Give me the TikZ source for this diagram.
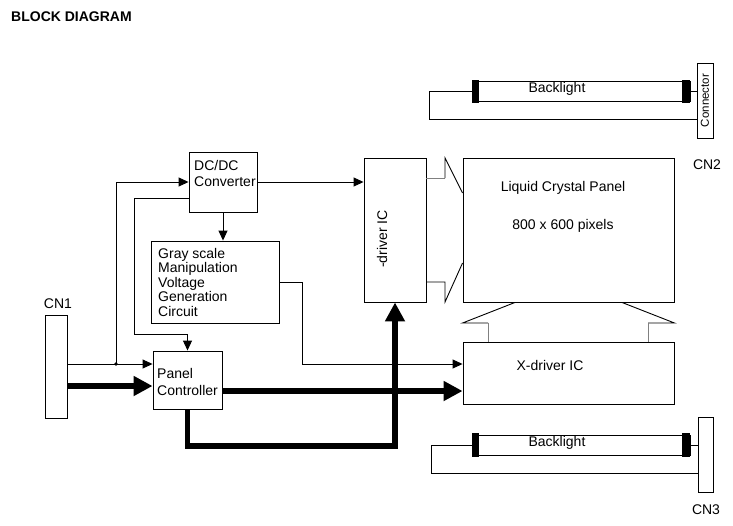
\documentclass[tikz,border=0pt]{standalone}
\usepackage{fontspec}
\setmainfont{Liberation Sans}
\usepackage{xcolor}
\usepackage{graphicx}
\usepackage{tikz}
\usetikzlibrary{shapes, arrows.meta, positioning}

\begin{document}
\begin{tikzpicture}[x=1pt, y=-1pt,
    box/.style={draw, rectangle, line width=0.9pt, inner sep=0pt},
    lbl/.style={inner sep=0pt, font=\fontsize{14}{16}\selectfont},
    wire/.style={line width=0.9pt},
    sig/.style={wire, -{Triangle[length=10pt, width=9pt]}},
    bus/.style={line width=5.5pt, -{Triangle[length=19pt, width=19pt]}},
    lamp/.style={box, minimum width=218pt, minimum height=20pt}]
  \useasboundingbox (0,0) rectangle (733,525);

  \node[lbl, anchor=west, font=\fontsize{14}{16}\selectfont\bfseries] (title) at (11,17) {BLOCK DIAGRAM};

  \node[box, minimum width=22pt, minimum height=103pt] (cn1) at (56,366.5) {};
  \node[lbl] (cn1-t) at (58,304) {CN1};

  \node[box, minimum width=68pt, minimum height=60pt] (dcdc) at (223,182) {};
  \node[lbl, align=left, anchor=north west] (dcdc-t) at (194,160) {DC/DC\\Converter};

  \node[box, minimum width=128pt, minimum height=82pt] (gray) at (215,282) {};
  \node[lbl, align=left, anchor=north west, font=\fontsize{14}{14.5}\selectfont] (gray-t) at (158,248) {Gray scale\\Manipulation\\Voltage\\Generation\\Circuit};

  \node[box, minimum width=69pt, minimum height=58pt] (panel) at (187.5,380) {};
  \node[lbl, align=left, anchor=north west, font=\fontsize{14}{17}\selectfont] (panel-t) at (157,368) {Panel\\Controller};

  \node[box, minimum width=62pt, minimum height=144pt] (ydrv) at (395,230) {};
  \node[lbl, rotate=90] (ydrv-t) at (382,239) {-driver IC};

  \node[box, minimum width=211pt, minimum height=144pt] (lcd) at (568.5,230) {};
  \node[lbl, align=center, anchor=north] (lcd-t) at (563,181) {Liquid Crystal Panel\\[22pt]800 x 600 pixels};
  \node[lbl] (cn2-t) at (707,165) {CN2};

  \node[box, minimum width=211pt, minimum height=62pt] (xdrv) at (568.5,373) {};
  \node[lbl] (xdrv-t) at (550,365) {X-driver IC};

  \node[lamp] (blA) at (581,91.5) {};
  \node[lbl] (blA-t) at (557,89) {Backlight};
  \node[box, minimum width=16pt, minimum height=75pt, font=\fontsize{11.5}{12}\selectfont] (conn) at (705,100.5) {\rotatebox{90}{Connector}};

  \node[lamp] (blB) at (581,445) {};
  \node[lbl] (blB-t) at (557,443) {Backlight};
  \node[box, minimum width=15pt, minimum height=75pt] (cn3) at (705.5,454.5) {};
  \node[lbl] (cn3-t) at (706,510) {CN3};

  \foreach \bl in {blA, blB} {
    \fill ([yshift=1.5pt]\bl.north west) rectangle ([xshift=7pt, yshift=-1.5pt]\bl.south west);
    \fill ([yshift=1.5pt]\bl.north east) rectangle ([xshift=-8pt, yshift=-1.5pt]\bl.south east);
  }
  \draw[wire] (blA.west) -| (429,119) -- (conn.west |- 0,119);
  \draw[wire] (blA.east) -- (conn.west |- blA.east);
  \draw[wire] (blB.west) -| (431,473) -- (cn3.west |- 0,473);
  \draw[wire] (blB.east) -- (cn3.west |- blB.east);

  \coordinate (split) at (116,364);
  \draw[sig] (cn1.east |- split) -- (panel.west |- split);
  \fill (split) circle (1.8pt);
  \draw[sig] (split) |- (dcdc.west);
  \draw[sig] (dcdc.west |- 0,198) -| (134,334) -| (panel.north);
  \draw[sig] (dcdc.south) -- (dcdc.south |- gray.north);
  \draw[sig] (gray.east) -| (302,364) -- (xdrv.west |- 0,364);
  \draw[sig] (dcdc.east) -- (ydrv.west |- dcdc.east);

  \draw[bus] (cn1.east |- 0,386) -- (panel.west |- 0,386);
  \draw[bus] (panel.east |- 0,391) -- (xdrv.west |- 0,391);
  \draw[bus] (panel.south) |- (ydrv.south |- 0,446) -- (ydrv.south);

  \draw[wire, gray] (ydrv.east |- 0,178) -- (445,178);
  \draw[wire] (445,178) -- (445,158) -- (lcd.west |- 0,193);
  \draw[wire] (ydrv.east |- 0,282) -- (445,282) -- (445,302) -- (lcd.west |- 0,263);
  \draw[wire] (lcd.south -| 515,0) -- (xdrv.west |- 0,323) -- (488,323);
  \draw[wire, gray] (488,323) -- (xdrv.north -| 488,0);
  \draw[wire] (lcd.south -| 622,0) -- (xdrv.east |- 0,323) -- (648,323);
  \draw[wire, gray] (648,323) -- (xdrv.north -| 648,0);
\end{tikzpicture}
\end{document}
